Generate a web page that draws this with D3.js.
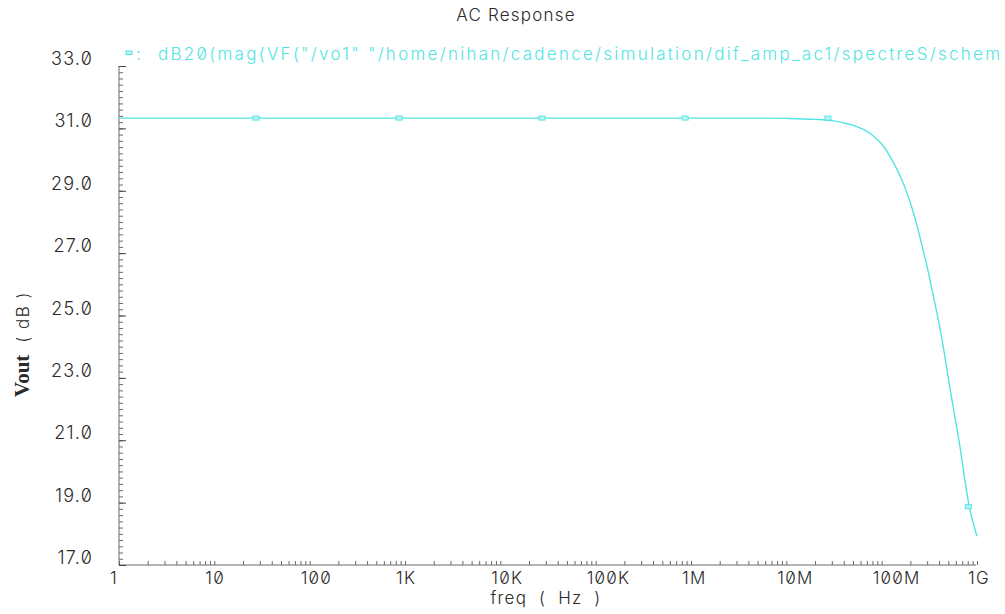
<!DOCTYPE html>
<html>
<head>
<meta charset="utf-8">
<script src="https://cdn.jsdelivr.net/npm/d3@7"></script>
<style>
  html, body { margin: 0; padding: 0; background: #fff; }
  svg { display: block; }
  .lbl { font-family: Inter, "Liberation Sans", sans-serif; font-weight: 300; font-feature-settings: "zero" 1; }
</style>
</head>
<body>
<svg id="chart" width="1005" height="614"></svg>
<script>
// AC sweep: output magnitude in dB versus frequency
const freqHz = [1, 10, 100, 1e3, 1e4, 1e5, 1e6, 5e6, 1e7, 2e7, 3e7, 4.5e7, 6.5e7, 8e7, 1e8,
                1.33e8, 1.6e8, 1.84e8, 2.1e8, 2.34e8, 2.65e8, 3e8, 3.5e8, 4.2e8, 5.25e8, 6.5e8, 8.3e8, 1e9];
const voutDb = [31.33, 31.33, 31.33, 31.33, 31.33, 31.33, 31.33, 31.33, 31.32, 31.29, 31.25, 31.14, 30.96, 30.78, 30.5,
                29.9, 29.4, 28.94, 28.4, 27.9, 27.24, 26.56, 25.6, 24.4, 22.6, 20.95, 18.87, 17.92];

// symbol markers along the trace
const markerHz = [28, 890, 2.8e4, 8.9e5, 2.8e7, 8.3e8];
const markerDb = [31.33, 31.33, 31.33, 31.33, 31.33, 18.87];

// axis ticks and labels
const xTickValues = [1, 10, 100, 1e3, 1e4, 1e5, 1e6, 1e7, 1e8, 1e9];
const xTickLabels = ["1", "10", "100", "1K", "10K", "100K", "1M", "10M", "100M", "1G"];
const yTickValues = [33, 31, 29, 27, 25, 23, 21, 19, 17];
const yTickLabels = ["33.0", "31.0", "29.0", "27.0", "25.0", "23.0", "21.0", "19.0", "17.0"];

const titleText = "AC Response";
const legendText = "dB20(mag(VF(\"/vo1\" \"/home/nihan/cadence/simulation/dif_amp_ac1/spectreS/schem";
const xTitle = "freq ( Hz )";

const traceColor = "#52e4e4";
const axisColor = "#6a6a6a";
const textColor = "#2a2a2a";

const svg = d3.select("#chart");
const plot = { left: 119, right: 977, top: 66, bottom: 565 };

const x = d3.scaleLog().domain([1, 1e9]).range([plot.left, plot.right]);
const y = d3.scaleLinear().domain([17, 33]).range([plot.bottom, plot.top]);

// title
svg.append("text").attr("class", "lbl")
  .attr("x", 516).attr("y", 21)
  .attr("text-anchor", "middle")
  .attr("font-size", 17).attr("letter-spacing", 1.2)
  .attr("fill", textColor)
  .text(titleText);

// legend entry
const leg = svg.append("g");
leg.append("rect").attr("x", 126).attr("y", 51).attr("width", 6).attr("height", 3.5)
  .attr("fill", "#bff5f5").attr("stroke", traceColor).attr("stroke-width", 1);
leg.append("text").attr("class", "lbl").attr("x", 136).attr("y", 60)
  .attr("font-size", 17).attr("fill", traceColor).text(":");
leg.append("text").attr("class", "lbl")
  .attr("x", 158).attr("y", 60)
  .attr("font-size", 17)
  .attr("textLength", 842).attr("lengthAdjust", "spacing")
  .attr("fill", traceColor)
  .text(legendText);

// x axis with log minor ticks (1..9 per decade)
const xMinor = [];
for (let e = 0; e < 9; e++) for (let m = 1; m <= 9; m++) xMinor.push(m * Math.pow(10, e));
xMinor.push(1e9);
const xAxis = d3.axisBottom(x).tickValues(xMinor).tickSize(-4).tickFormat("");
const gx = svg.append("g").attr("transform", `translate(0,${plot.bottom})`).call(xAxis);
gx.select(".domain").attr("stroke", axisColor).attr("d", `M${plot.left},0H${plot.right - 1}`);
gx.selectAll(".tick line").attr("stroke", axisColor);

svg.append("g").selectAll("text").data(xTickValues).join("text")
  .attr("class", "lbl")
  .attr("x", d => x(d) - 9).attr("y", 584)
  .attr("font-size", 17).attr("letter-spacing", 1.2)
  .attr("fill", textColor)
  .text((d, i) => xTickLabels[i]);

svg.append("text").attr("class", "lbl")
  .attr("x", 546).attr("y", 604)
  .attr("text-anchor", "middle")
  .attr("font-size", 17).attr("letter-spacing", 1.2).attr("word-spacing", 6)
  .attr("fill", textColor)
  .text(xTitle);

// y axis: major ticks every 2 dB, minor every 0.2 dB
const yMinor = d3.range(17, 33.001, 0.2);
const gyMinor = svg.append("g").attr("transform", `translate(${plot.left},0)`)
  .call(d3.axisRight(y).tickValues(yMinor).tickSize(4).tickFormat(""));
gyMinor.select(".domain").attr("stroke", axisColor).attr("d", `M0,${plot.top}V${plot.bottom}`);
gyMinor.selectAll(".tick line").attr("stroke", axisColor);

const gyMajor = svg.append("g").attr("transform", `translate(${plot.left},0)`)
  .call(d3.axisRight(y).tickValues(yTickValues).tickSize(7).tickFormat(""));
gyMajor.select(".domain").remove();
gyMajor.selectAll(".tick line").attr("stroke", "#444");

svg.append("g").selectAll("text").data(yTickValues).join("text")
  .attr("class", "lbl")
  .attr("x", 93).attr("y", d => y(d) - 1)
  .attr("text-anchor", "end")
  .attr("font-size", 18).attr("letter-spacing", 1.2)
  .attr("fill", textColor)
  .text((d, i) => yTickLabels[i]);

// y axis title
const yt = svg.append("text")
  .attr("transform", "translate(29,344) rotate(-90)")
  .attr("text-anchor", "middle")
  .attr("fill", textColor);
yt.append("tspan").attr("font-family", "'Liberation Serif', serif").attr("font-weight", "bold")
  .attr("font-size", 21).text("Vout");
yt.append("tspan").attr("class", "lbl").attr("font-size", 17).attr("letter-spacing", 1.5)
  .attr("dx", 12).text("(  dB  )");

// trace
const pts = freqHz.map((f, i) => [f, voutDb[i]]);
const line = d3.line().x(d => x(d[0])).y(d => y(d[1])).curve(d3.curveMonotoneX);
svg.append("path").datum(pts)
  .attr("fill", "none").attr("stroke", traceColor).attr("stroke-width", 1.4)
  .attr("d", line);

// trace markers
svg.append("g").selectAll("rect").data(markerHz).join("rect")
  .attr("x", d => x(d) - 4).attr("y", (d, i) => y(markerDb[i]) - 2)
  .attr("width", 6).attr("height", 4)
  .attr("fill", "#bff5f5").attr("stroke", traceColor).attr("stroke-width", 1);
</script>
</body>
</html>
